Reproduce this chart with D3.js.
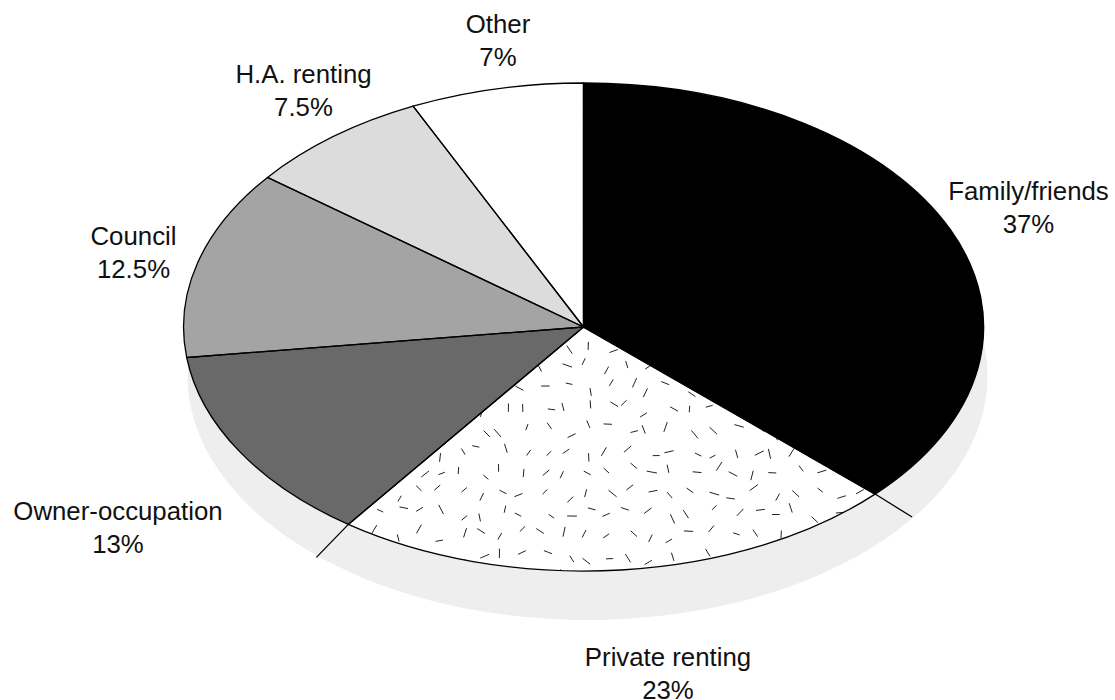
<!DOCTYPE html>
<html><head><meta charset="utf-8">
<script src="https://cdn.jsdelivr.net/npm/d3@7"></script>
<style>html,body{margin:0;background:#fff}svg{display:block}text{font-family:"Liberation Sans",Arial,sans-serif;font-size:25.8px;fill:#111}</style>
</head><body><svg id="c" width="1115" height="700"></svg>
<script>
const categories=["Family/friends","Private renting","Owner-occupation","Council","H.A. renting","Other"];
const shares=[37,23,13,12.5,7.5,7];
const valueLabels=["37%","23%","13%","12.5%","7.5%","7%"];
const sliceFills=["#000000","#ffffff","#696969","#a4a4a4","#dcdcdc","#ffffff"];
const labelCentres=[[1028.5,200],[668,666],[118,520],[133.5,245],[303.5,83],[498,33]];
const lineGap=32.7;
const centre=[583.5,327], radii=[400,244], depth=[4,49];
const svg=d3.select("#c");
const pie=d3.pie().sort(null).value(d=>d)(shares);
const arc=d3.arc().innerRadius(0).outerRadius(1);
const sx=d3.scaleLinear().domain([-1,1]).range([centre[0]-radii[0],centre[0]+radii[0]]);
const sy=d3.scaleLinear().domain([-1,1]).range([centre[1]-radii[1],centre[1]+radii[1]]);
const xform=`translate(${centre[0]},${centre[1]}) scale(${radii[0]},${radii[1]})`;

svg.append("ellipse").attr("cx",centre[0]+depth[0]).attr("cy",centre[1]+depth[1])
  .attr("rx",radii[0]).attr("ry",radii[1]).attr("fill","#eeeeee");

// side-wall edges below the two front rim joints
const wallEdges=[[37,23],[-32,33]];
[pie[0].endAngle,pie[1].endAngle].forEach((a,i)=>{
  const x=sx(Math.sin(a)), y=sy(-Math.cos(a));
  svg.append("line").attr("x1",x).attr("y1",y)
    .attr("x2",x+wallEdges[i][0]).attr("y2",y+wallEdges[i][1])
    .attr("stroke","#000").attr("stroke-width",1.3);
});

const g=svg.append("g").attr("transform",xform);
g.selectAll("path.f").data(pie).join("path").attr("class","f")
  .attr("d",arc).attr("fill",(d,i)=>sliceFills[i]);

// speckle texture of the private renting slice (decorative, deterministic)
svg.append("clipPath").attr("id","speck").append("path")
  .attr("transform",xform).attr("d",arc(pie[1]));
const sp=svg.append("g").attr("clip-path","url(#speck)");
const step=21;
const hash=k=>{const s=Math.sin(k*12.9898)*43758.5453;return s-Math.floor(s);};
let n=0;
for(let y=325;y<585;y+=step){
  for(let x=335;x<890;x+=step){
    n++;
    const px=x+(hash(n)-.5)*13, py=y+(hash(n+.37)-.5)*13;
    const ang=hash(n+.71)*Math.PI*2, len=6.5+hash(n+.13)*4;
    sp.append("line")
      .attr("x1",px-Math.cos(ang)*len/2).attr("y1",py-Math.sin(ang)*len/2)
      .attr("x2",px+Math.cos(ang)*len/2).attr("y2",py+Math.sin(ang)*len/2)
      .attr("stroke","#222").attr("stroke-width",1);
  }
}

const g2=svg.append("g").attr("transform",xform);
g2.selectAll("path.s").data(pie).join("path").attr("class","s")
  .attr("d",arc).attr("fill","none").attr("stroke","#000")
  .attr("stroke-width",1.3).attr("vector-effect","non-scaling-stroke");

categories.forEach((c,i)=>{
  const [x,y]=labelCentres[i];
  svg.append("text").attr("x",x).attr("y",y).attr("text-anchor","middle").text(c);
  svg.append("text").attr("x",x).attr("y",y+lineGap).attr("text-anchor","middle").text(valueLabels[i]);
});
</script></body></html>
